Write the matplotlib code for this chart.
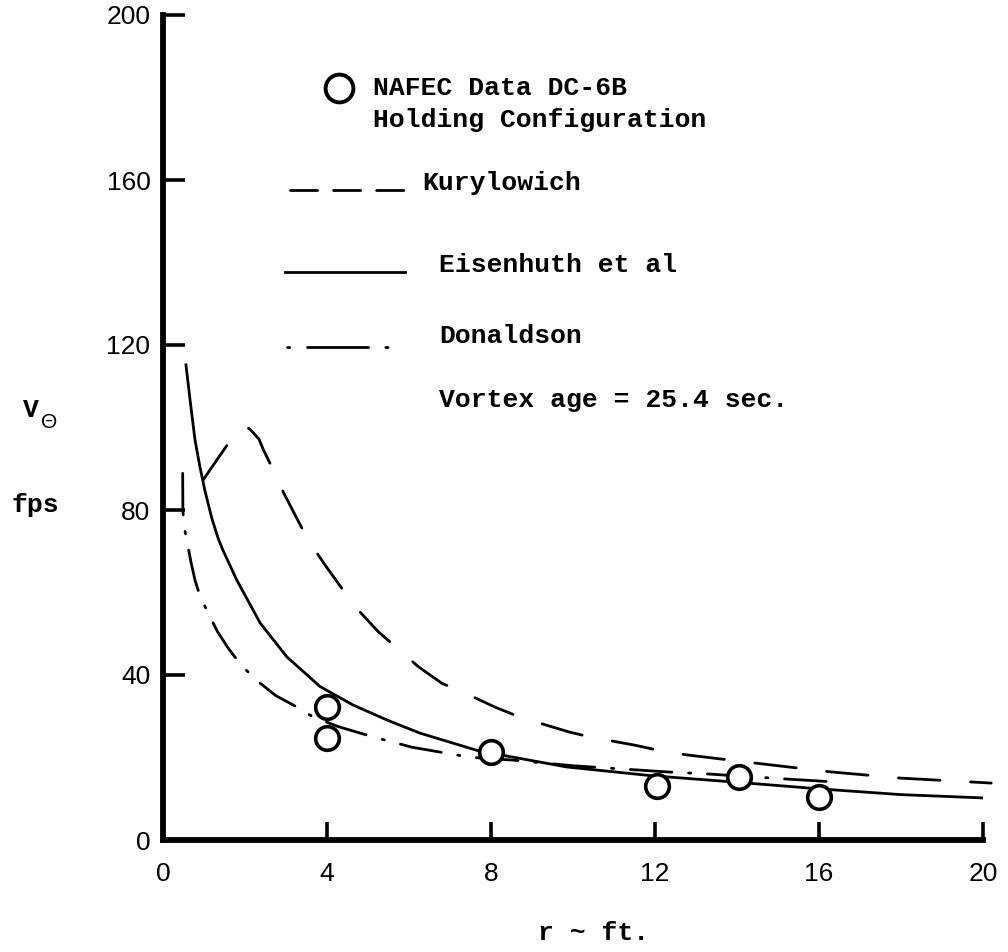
import numpy as np
import matplotlib
matplotlib.use("Agg")
import matplotlib.pyplot as plt
from matplotlib.lines import Line2D

# data (r in ft, V_theta in fps)
nafec_r = [4.0, 4.0, 8.0, 12.05, 14.05, 16.0]
nafec_v = [32.2, 24.7, 21.3, 13.1, 15.3, 10.4]

kury_r = [0.98, 1.2, 1.43, 1.68, 1.92, 2.02, 2.12, 2.34, 2.44, 2.77, 2.93, 3.54, 3.95,
          4.68, 5.25, 6.23, 6.8, 7.5, 8.1, 8.7, 9.9, 10.4, 11.5, 12.3, 12.8, 14.4,
          16.3, 18.0, 20.2]
kury_v = [87.3, 90.5, 93.8, 97.4, 99.9, 100.2, 99.6, 97.2, 94.8, 88.0, 84.4, 72.7, 66.7,
          56.6, 50.5, 42.0, 38.0, 35.0, 32.2, 29.8, 26.2, 25.0, 23.0, 21.3, 20.6, 18.7,
          16.5, 15.0, 13.8]

eisen_r = [0.56, 0.66, 0.78, 0.9, 1.02, 1.19, 1.35, 1.46, 1.8, 2.37, 3.02, 3.83, 4.64,
           5.46, 6.27, 7.7, 9.85, 11.9, 14.0, 16.0, 18.0, 20.0]
eisen_v = [115.2, 106.7, 97.0, 90.5, 84.8, 78.0, 73.0, 70.3, 63.0, 52.6, 44.4, 37.2, 32.7,
           29.1, 25.9, 21.6, 17.7, 15.6, 14.0, 12.4, 11.0, 10.2]

don_r = [0.48, 0.485, 0.51, 0.58, 0.68, 0.78, 0.9, 1.1, 1.33, 1.59, 1.92, 2.37, 2.75,
         3.18, 3.65, 4.27, 5.12, 5.5, 6.07, 7.17, 7.56, 8.5, 10.0, 12.3, 13.3, 14.85, 16.5]
don_v = [88.9, 80.0, 76.2, 72.7, 67.5, 63.0, 59.2, 55.0, 50.5, 46.5, 42.2, 38.0, 35.0,
         32.7, 29.9, 27.5, 25.0, 24.0, 22.5, 20.6, 20.0, 19.4, 18.0, 16.5, 16.0, 15.0, 14.0]

xticks = [0, 4, 8, 12, 16, 20]
yticks = [0, 40, 80, 120, 160, 200]

W, H = 1008, 952
MONO = "Liberation Mono"


def px(x, y):
    # pixel position -> figure fraction
    return x / W, 1 - y / H


fig = plt.figure(figsize=(W / 100, H / 100), dpi=100)
ax = fig.add_axes([163 / W, 1 - 840 / H, (983 - 163) / W, (840 - 15) / H])

lw = 2.0
ax.plot(kury_r, kury_v, color="black", lw=lw, dashes=(15, 11),
        dash_capstyle="round", clip_on=False)
ax.plot(eisen_r, eisen_v, color="black", lw=lw, solid_joinstyle="round")
ax.plot(don_r, don_v, color="black", lw=lw, dashes=(15, 6, 0.8, 6),
        dash_capstyle="round")
ax.plot(nafec_r, nafec_v, "o", ms=17, mfc="white", mec="black", mew=2.6, zorder=5)

ax.set_xlim(0, 20)
ax.set_ylim(0, 200)
ax.set_xticks(xticks)
ax.set_yticks(yticks)
for s in ["top", "right"]:
    ax.spines[s].set_visible(False)
for s in ["left", "bottom"]:
    ax.spines[s].set_linewidth(4.2)
ax.tick_params(axis="both", direction="in", width=2.6, labelsize=19, pad=8)
ax.tick_params(axis="x", length=13, pad=16)
ax.tick_params(axis="y", length=16, pad=9)
for lab in ax.get_xticklabels() + ax.get_yticklabels():
    lab.set_fontfamily("Liberation Sans")

# legend block drawn like the original figure
tk = dict(fontsize=19, fontfamily=MONO, fontweight="bold", va="center", ha="left")
tf = fig.transFigure
fig.add_artist(Line2D([px(339, 0)[0]], [px(0, 88)[1]], marker="o", ms=20,
                      mfc="white", mec="black", mew=2.8, transform=tf))
fig.text(*px(373, 88), "NAFEC Data DC-6B", **tk)
fig.text(*px(373, 120), "Holding Configuration", **tk)

fig.add_artist(Line2D([px(290, 0)[0], px(405, 0)[0]], [px(0, 190)[1]] * 2,
                      color="black", lw=lw, dashes=(9.8, 5.7), dash_capstyle="round",
                      transform=tf))
fig.text(*px(422, 183), "Kurylowich", **tk)

fig.add_artist(Line2D([px(285, 0)[0], px(405, 0)[0]], [px(0, 272)[1]] * 2,
                      color="black", lw=lw, transform=tf))
fig.text(*px(439, 265), "Eisenhuth et al", **tk)

fig.add_artist(Line2D([px(287, 0)[0], px(392, 0)[0]], [px(0, 347)[1]] * 2,
                      color="black", lw=lw, dashes=(0.8, 6.4, 22, 6.2, 0.8, 30),
                      dash_capstyle="round", transform=tf))
fig.text(*px(439, 336), "Donaldson", **tk)
fig.text(*px(439, 400), "Vortex age = 25.4 sec.", **tk)

# axis labels
fig.text(*px(31, 410), "V", fontsize=19, fontfamily=MONO, fontweight="bold",
         ha="center", va="center")
fig.text(*px(49, 422), "\u0398", fontsize=15, fontfamily="Liberation Sans",
         ha="center", va="center")
fig.text(*px(35, 505), "fps", fontsize=19, fontfamily=MONO, fontweight="bold",
         ha="center", va="center")
fig.text(*px(594, 933), "r ~ ft.", fontsize=19, fontfamily=MONO, fontweight="bold",
         ha="center", va="center")

fig.savefig("out.png", dpi=100)
